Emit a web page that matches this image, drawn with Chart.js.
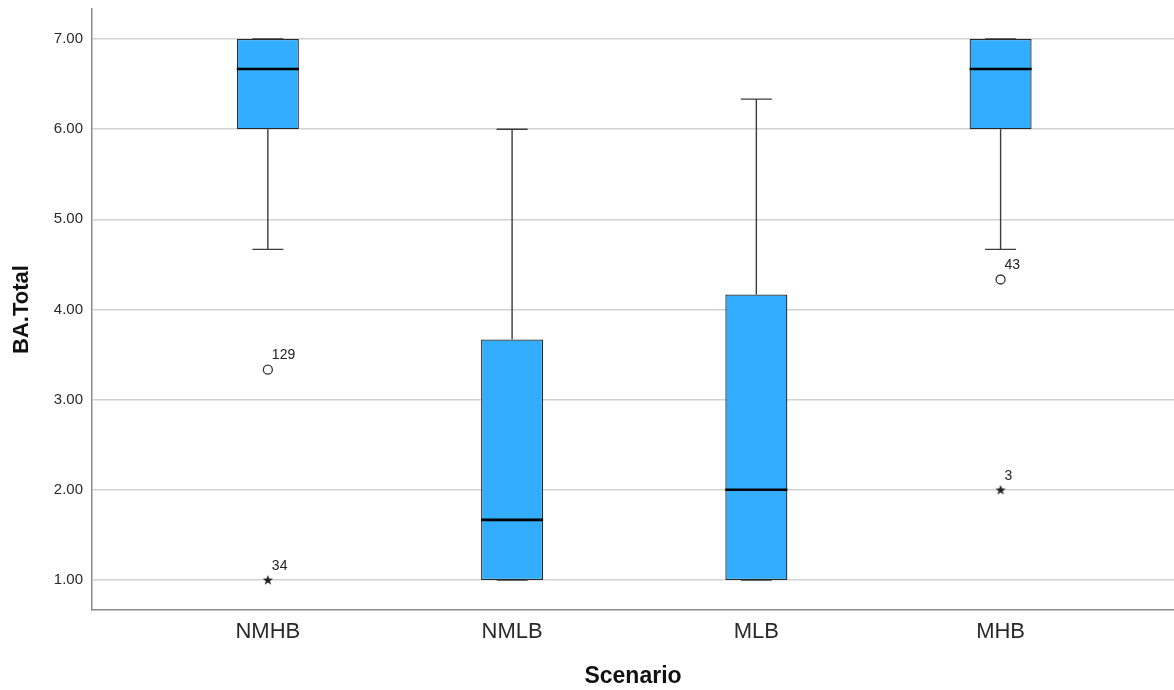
<!DOCTYPE html>
<html>
<head>
<meta charset="utf-8">
<script src="https://cdn.jsdelivr.net/npm/chart.js@4.4.1/dist/chart.umd.min.js"></script>
<style>
  html, body { margin: 0; padding: 0; background: #ffffff; }
  #wrap { width: 1174px; height: 690px; }
</style>
</head>
<body>
<div id="wrap"><canvas id="c" width="1174" height="690"></canvas></div>
<script>
// Box-plot summary for BA.Total by scenario
const scenarios   = ['NMHB', 'NMLB', 'MLB', 'MHB'];
const whiskerLow  = [4.667, 1.000, 1.000, 4.667];
const q1          = [6.000, 1.000, 1.000, 6.000];
const median      = [6.667, 1.667, 2.000, 6.667];
const q3          = [7.000, 3.667, 4.167, 7.000];
const whiskerHigh = [7.000, 6.000, 6.333, 7.000];

// Outliers (circle) and extreme values (star), with case numbers
const circleCat   = [0, 3];
const circleValue = [3.333, 4.333];
const circleCase  = ['129', '43'];
const starCat     = [0, 3];
const starValue   = [1.000, 2.000];
const starCase    = ['34', '3'];

const yTicks = [1, 2, 3, 4, 5, 6, 7];

// small filled five-point star used as a point style
function makeStar() {
  const c = document.createElement('canvas');
  c.width = 12; c.height = 12;
  const g = c.getContext('2d');
  g.fillStyle = '#222';
  g.beginPath();
  for (let k = 0; k < 10; k++) {
    const r = k % 2 === 0 ? 5.4 : 2.2;
    const a = -Math.PI / 2 + k * Math.PI / 5;
    const px = 6 + r * Math.cos(a), py = 6.4 + r * Math.sin(a);
    if (k === 0) g.moveTo(px, py); else g.lineTo(px, py);
  }
  g.closePath();
  g.fill();
  return c;
}
const starImg = makeStar();

// whiskers, caps, medians and case labels drawn through the chart scales
const boxPlotLines = {
  id: 'boxPlotLines',
  beforeDatasetsDraw(chart) {
    const { ctx, scales: { x, y } } = chart;
    const bars = chart.getDatasetMeta(0).data;
    ctx.save();
    ctx.strokeStyle = '#3c3c3c';
    ctx.lineWidth = 1.4;
    scenarios.forEach((s, i) => {
      const cx = x.getPixelForValue(i);
      const cap = bars[i].width / 4;
      const yLo = y.getPixelForValue(whiskerLow[i]);
      const yHi = y.getPixelForValue(whiskerHigh[i]);
      const yQ1 = y.getPixelForValue(q1[i]);
      const yQ3 = y.getPixelForValue(q3[i]);
      ctx.beginPath();
      ctx.moveTo(cx, yQ3); ctx.lineTo(cx, yHi);
      ctx.moveTo(cx, yQ1); ctx.lineTo(cx, yLo);
      ctx.moveTo(cx - cap, yHi); ctx.lineTo(cx + cap, yHi);
      ctx.moveTo(cx - cap, yLo); ctx.lineTo(cx + cap, yLo);
      ctx.stroke();
    });
    ctx.restore();
  },
  afterDatasetsDraw(chart) {
    const { ctx, scales: { x, y } } = chart;
    const bars = chart.getDatasetMeta(0).data;
    ctx.save();
    ctx.strokeStyle = '#000';
    ctx.lineWidth = 2.6;
    scenarios.forEach((s, i) => {
      const cx = x.getPixelForValue(i);
      const hw = bars[i].width / 2;
      const ym = y.getPixelForValue(median[i]);
      ctx.beginPath();
      ctx.moveTo(cx - hw, ym); ctx.lineTo(cx + hw, ym);
      ctx.stroke();
    });
    ctx.fillStyle = '#222';
    ctx.font = '14px "Liberation Sans", Arial, sans-serif';
    ctx.textAlign = 'left';
    ctx.textBaseline = 'middle';
    const label = (cat, val, txt) => {
      ctx.fillText(txt, x.getPixelForValue(cat) + 4, y.getPixelForValue(val) - 14);
    };
    circleCat.forEach((c, i) => label(c, circleValue[i], circleCase[i]));
    starCat.forEach((c, i) => label(c, starValue[i], starCase[i]));
    ctx.restore();
  }
};

const tickFont = { family: '"Liberation Sans", Arial, sans-serif' };

new Chart(document.getElementById('c'), {
  type: 'bar',
  data: {
    datasets: [
      {
        type: 'bar',
        data: scenarios.map((s, i) => ({ x: i, y: [q1[i], q3[i]] })),
        backgroundColor: '#33adff',
        borderColor: '#2a2a2a',
        borderWidth: 1.3,
        borderSkipped: false,
        categoryPercentage: 1,
        barPercentage: 0.254
      },
      {
        type: 'scatter',
        data: circleCat.map((c, i) => ({ x: c, y: circleValue[i] })),
        pointStyle: 'circle',
        pointRadius: 4.5,
        backgroundColor: '#ffffff',
        borderColor: '#333333',
        borderWidth: 1.3
      },
      {
        type: 'scatter',
        data: starCat.map((c, i) => ({ x: c, y: starValue[i] })),
        pointStyle: starImg,
        pointRadius: 6
      }
    ]
  },
  options: {
    responsive: false,
    animation: false,
    layout: { autoPadding: false, padding: { top: 9, right: 0, left: 0, bottom: 0 } },
    plugins: { legend: { display: false }, tooltip: { enabled: false } },
    scales: {
      x: {
        type: 'linear',
        offset: false,
        min: -0.72,
        max: 3.71,
        afterBuildTicks: axis => { axis.ticks = scenarios.map((s, i) => ({ value: i })); },
        afterFit: axis => { axis.height = 80; axis.paddingLeft = 0; axis.paddingRight = 0; },
        grid: { display: true, offset: false, drawOnChartArea: false, drawTicks: false },
        border: { color: '#8a8a8a', width: 1.5 },
        ticks: {
          callback: v => scenarios[v],
          font: { ...tickFont, size: 22 },
          color: '#2a2a2a',
          padding: 9,
          autoSkip: false,
          maxRotation: 0
        },
        title: {
          display: true,
          text: 'Scenario',
          font: { ...tickFont, size: 23, weight: 'bold' },
          color: '#111',
          padding: { top: -2, bottom: 0 }
        }
      },
      y: {
        type: 'linear',
        min: 0.667,
        max: 7.333,
        afterBuildTicks: axis => { axis.ticks = yTicks.map(v => ({ value: v })); },
        afterFit: axis => { axis.width = 92; axis.paddingTop = 0; axis.paddingBottom = 0; },
        grid: { color: '#d2d2d2', lineWidth: 1.5, drawTicks: false },
        border: { color: '#8a8a8a', width: 1.5 },
        ticks: {
          callback: v => Number(v).toFixed(2),
          font: { ...tickFont, size: 15 },
          color: '#2a2a2a',
          padding: 9
        },
        title: {
          display: true,
          text: 'BA.Total',
          font: { ...tickFont, size: 22, weight: 'bold' },
          color: '#111',
          padding: { top: 9, bottom: 0 }
        }
      }
    }
  },
  plugins: [boxPlotLines]
});
</script>
</body>
</html>
